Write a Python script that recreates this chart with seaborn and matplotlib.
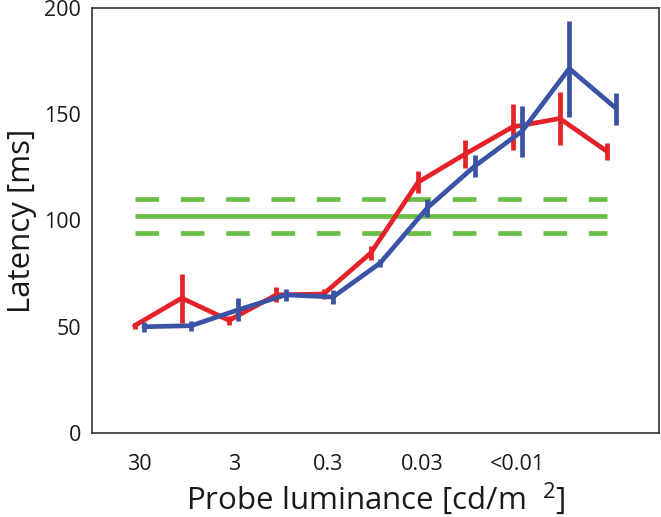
import numpy as np
import pandas as pd
import seaborn as sns
import matplotlib
matplotlib.use("Agg")
import matplotlib.pyplot as plt

# data
steps = list(range(11))
tick_positions = [0, 2, 4, 6, 8]
tick_labels = ["30", "3", "0.3", "0.03", "<0.01"]

red_mean = [50.5, 63.5, 53, 65, 65.4, 84.7, 118, 131.3, 144, 148, 132.5]
red_err = [1.5, 11.5, 2, 3.5, 2.5, 3.3, 5.2, 6.8, 10.8, 12.3, 4]
blue_mean = [50, 50.5, 58, 65, 64, 80, 106, 125.6, 142, 171.5, 152.6]
blue_err = [2.3, 2.3, 5.3, 3, 3.3, 2, 4.2, 5, 12, 22.6, 7.6]

ref_mean = 102
ref_band = 8

offset_red = -0.1
offset_blue = 0.1

RED = "#E62229"
BLUE = "#3A53A4"
GREEN = "#6BBE45"

sns.set_theme(style="white")
plt.rcParams["font.family"] = ["Open Sans", "DejaVu Sans"]

fig = plt.figure(figsize=(6.61, 5.17), dpi=100)
ax = fig.add_axes([92 / 661, 84 / 517, 567 / 661, 425 / 517])

xr = [s + offset_red for s in steps]
xb = [s + offset_blue for s in steps]

# reference band
ax.hlines([ref_mean], xr[0], xr[-1], color=GREEN, lw=3.4, zorder=1)
ax.hlines([ref_mean + ref_band, ref_mean - ref_band], xr[0], xr[-1], color=GREEN,
          lw=3.4, linestyles=(0, (5.0, 4.6)), zorder=1)

df_r = pd.DataFrame({"x": xr, "y": red_mean})
df_b = pd.DataFrame({"x": xb, "y": blue_mean})

sns.lineplot(data=df_r, x="x", y="y", ax=ax, color=RED, lw=3.4, zorder=3)
ax.vlines(xr, np.array(red_mean) - np.array(red_err), np.array(red_mean) + np.array(red_err),
          color=RED, lw=3.4, zorder=3)
sns.lineplot(data=df_b, x="x", y="y", ax=ax, color=BLUE, lw=3.4, zorder=4)
ax.vlines(xb, np.array(blue_mean) - np.array(blue_err), np.array(blue_mean) + np.array(blue_err),
          color=BLUE, lw=3.4, zorder=4)

ax.set_xlim(-1, 11)
ax.set_ylim(0, 200)
ax.set_xticks(tick_positions)
ax.set_xticklabels(tick_labels)
ax.set_yticks([0, 50, 100, 150, 200])
ax.tick_params(axis="both", direction="in", length=5, width=1, colors="#333333",
               labelsize=15.5, labelcolor="#1a1a1a", pad=8)
ax.tick_params(axis="x", pad=15)
ax.set_xlabel("Probe luminance [cd/m  $^{\\mathregular{2}}$]", fontsize=22.5, color="#1a1a1a", labelpad=4)
ax.set_ylabel("Latency [ms]", fontsize=22.5, color="#1a1a1a", labelpad=5)
for sp in ax.spines.values():
    sp.set_color("#333333")
    sp.set_linewidth(1.2)
    sp.set_visible(True)

fig.savefig("out.png", dpi=100)
